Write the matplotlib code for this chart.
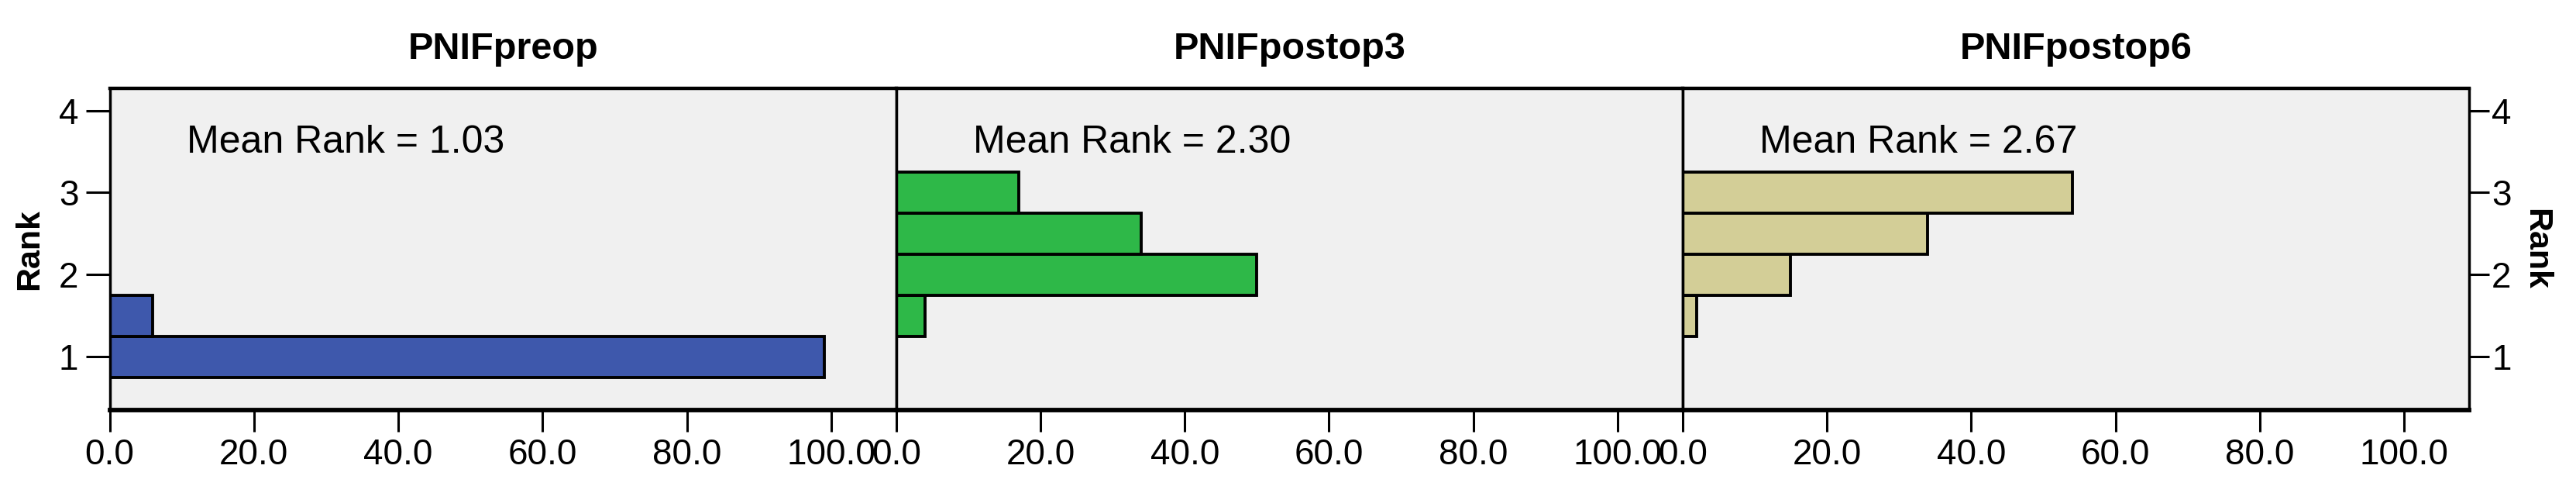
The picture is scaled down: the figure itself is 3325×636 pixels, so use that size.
import matplotlib.pyplot as plt
from matplotlib.ticker import FormatStrFormatter

plt.rcParams['font.family'] = ['Liberation Sans', 'DejaVu Sans']

# frequency of each (tied) rank, one list per variable
ranks = [1.0, 1.5, 2.0, 2.5, 3.0]
titles = ['PNIFpreop', 'PNIFpostop3', 'PNIFpostop6']
mean_ranks = [1.03, 2.30, 2.67]
freq_preop = [99, 6, 0, 0, 0]
freq_postop3 = [0, 4, 50, 34, 17]
freq_postop6 = [0, 2, 15, 34, 54]
colors = ['#3E58AC', '#2EB848', '#D3CE97']
x_ticks = [0, 20, 40, 60, 80, 100]
y_ticks = [1, 2, 3, 4]

fig = plt.figure(figsize=(33.25, 6.36), dpi=100)

left = 141.6 / 3325
width = 1015.1 / 3325
bottom = 1 - 529 / 636
height = 415 / 636

all_freqs = [freq_preop, freq_postop3, freq_postop6]
for i, (freqs, title, mr, col) in enumerate(zip(all_freqs, titles, mean_ranks, colors)):
    ax = fig.add_axes([left + i * width, bottom, width, height])
    ax.set_facecolor('#F0F0F0')
    r = [rk for rk, f in zip(ranks, freqs) if f > 0]
    f = [f for f in freqs if f > 0]
    ax.barh(r, f, height=0.5, color=col, edgecolor='black', linewidth=2.8)
    ax.set_xlim(0, 109)
    ax.set_ylim(0.35, 4.27)
    ax.set_xticks(x_ticks)
    ax.xaxis.set_major_formatter(FormatStrFormatter('%.1f'))
    ax.tick_params(axis='x', length=20, width=2.2, pad=6, labelsize=33)
    ax.set_title(title, fontsize=35, fontweight='bold', pad=27)
    ax.text(0.098, 0.80, 'Mean Rank = %.2f' % mr, transform=ax.transAxes,
            fontsize=36, va='baseline', ha='left')

    for side in ['left', 'right']:
        ax.spines[side].set_linewidth(2.5)
    ax.spines['top'].set_linewidth(3.2)
    ax.spines['bottom'].set_linewidth(4.2)

    ax.set_yticks(y_ticks)
    if i == 0:
        ax.tick_params(axis='y', length=22, width=2.2, pad=7, labelsize=33)
        ax.set_ylabel('Rank', fontsize=31, fontweight='bold', va='center')
        ax.yaxis.set_label_coords(-0.102, 0.5)
    elif i == 2:
        ax.yaxis.tick_right()
        ax.yaxis.set_label_position('right')
        ax.tick_params(axis='y', length=19, width=2.2, pad=2, labelsize=33)
        ax.set_ylabel('Rank', fontsize=31, fontweight='bold', rotation=270, va='center')
        ax.yaxis.set_label_coords(1.085, 0.5)
    else:
        ax.tick_params(axis='y', left=False, labelleft=False)

fig.savefig('out.png', dpi=100)
